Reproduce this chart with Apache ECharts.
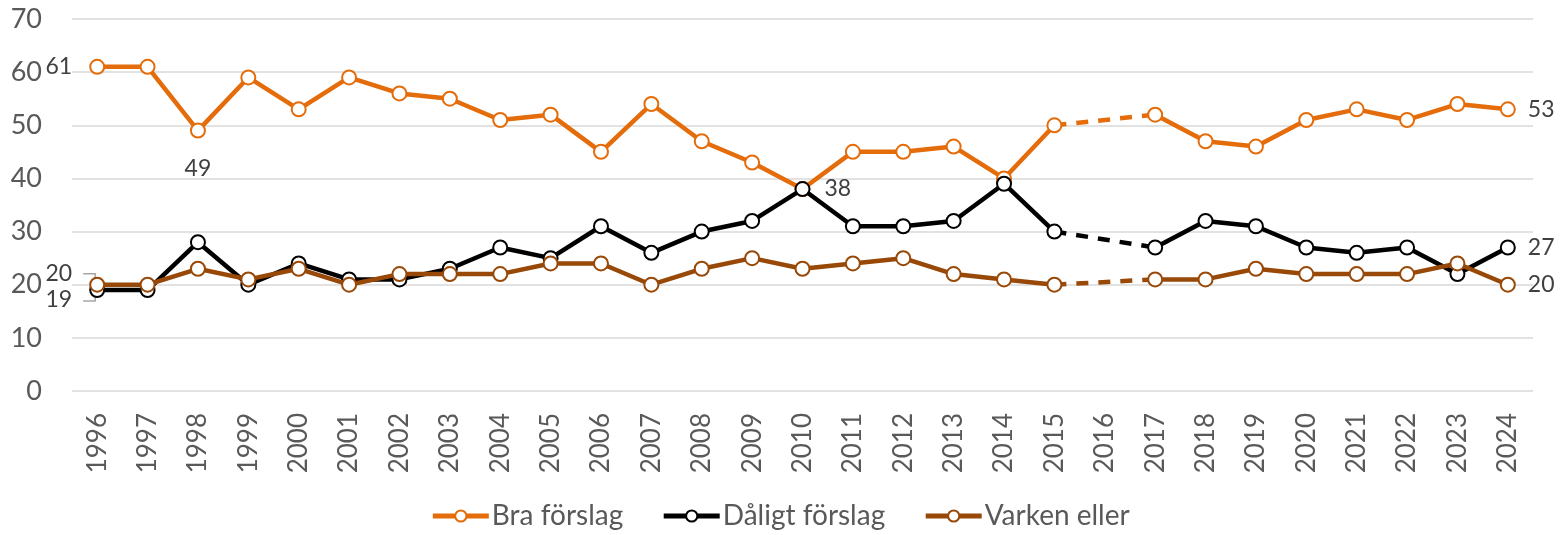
<!DOCTYPE html>
<html>
<head>
<meta charset="utf-8">
<script src="https://cdn.jsdelivr.net/npm/echarts@6/dist/echarts.min.js"></script>
<style>
  html, body { margin: 0; padding: 0; background: #fff; }
  #chart { width: 1560px; height: 535px; }
</style>
</head>
<body>
<div id="chart"></div>
<script>
  // år och serier (2016 saknas)
  const years = ['1996','1997','1998','1999','2000','2001','2002','2003','2004','2005','2006','2007','2008','2009','2010',
                 '2011','2012','2013','2014','2015','2016','2017','2018','2019','2020','2021','2022','2023','2024'];
  const bra     = [61,61,49,59,53,59,56,55,51,52,45,54,47,43,38,45,45,46,40,50,null,52,47,46,51,53,51,54,53];
  const daligt  = [19,19,28,20,24,21,21,23,27,25,31,26,30,32,38,31,31,32,39,30,null,27,32,31,27,26,27,22,27];
  const varken  = [20,20,23,21,23,20,22,22,22,24,24,20,23,25,23,24,25,22,21,20,null,21,21,23,22,22,22,24,20];
  const seriesNames = ['Bra förslag', 'Dåligt förslag', 'Varken eller'];
  const yTicks = [0, 10, 20, 30, 40, 50, 60, 70];

  const colors = ['#E46C0A', '#000000', '#984807'];
  const font = 'Lato, "Open Sans", sans-serif';
  const labelStyle = { show: true, color: '#404040', fontSize: 23, fontFamily: font };

  // vilka punkter som har etikett, och var
  const labelConf = [
    { 0: { position: 'left', distance: 17 }, 2: { position: 'bottom', distance: 18 }, 28: { position: 'right', distance: 12 } },
    { 0: { position: 'left', distance: 17, offset: [0, 10] }, 14: { position: 'right', distance: 14 }, 28: { position: 'right', distance: 12 } },
    { 0: { position: 'left', distance: 17, offset: [0, -11] }, 28: { position: 'right', distance: 12 } }
  ];

  function withLabels(values, conf) {
    return values.map((v, i) => {
      const c = conf[i];
      if (c && v != null) {
        return {
          value: v,
          label: Object.assign({}, labelStyle, { position: c.position, distance: c.distance, offset: c.offset || [0, 0] })
        };
      }
      return v;
    });
  }

  // streckad bit över det saknade året
  function gapPart(values) {
    return values.map((v, i) => {
      const prev = values[i - 1], next = values[i + 1];
      if (v == null) return null;
      if ((next === null && i + 1 < values.length) || (prev === null && i > 0)) return v;
      return null;
    });
  }

  const allData = [bra, daligt, varken];
  const series = [];
  allData.forEach((vals, k) => {
    series.push({
      name: seriesNames[k],
      type: 'line',
      data: withLabels(vals, labelConf[k]),
      connectNulls: false,
      symbol: 'circle',
      symbolSize: 14,
      showAllSymbol: true,
      lineStyle: { color: colors[k], width: 4.5 },
      itemStyle: { color: '#ffffff', borderColor: colors[k], borderWidth: 2 },
      z: 3 + k,
      animation: false
    });
    series.push({
      name: seriesNames[k] + '_gap',
      type: 'line',
      data: gapPart(vals),
      connectNulls: true,
      symbol: 'none',
      lineStyle: { color: colors[k], width: 4.5, type: [12, 10] },
      z: 2,
      silent: true,
      animation: false
    });
  });

  const chart = echarts.init(document.getElementById('chart'));
  chart.setOption({
    backgroundColor: '#ffffff',
    animation: false,
    grid: { left: 72, right: 27, top: 19, bottom: 144 },
    legend: {
      data: seriesNames,
      bottom: 0,
      left: 'center',
      itemWidth: 56,
      itemHeight: 14,
      itemGap: 38,
      lineStyle: { width: 5 },
      textStyle: { color: '#595959', fontSize: 28, fontFamily: font, padding: [0, 0, 0, -2] }
    },
    xAxis: {
      type: 'category',
      data: years,
      boundaryGap: true,
      axisLine: { show: false },
      axisTick: { show: false },
      axisLabel: {
        rotate: 90,
        interval: 0,
        margin: 22,
        color: '#595959',
        fontSize: 26,
        fontFamily: font
      }
    },
    yAxis: {
      type: 'value',
      min: yTicks[0],
      max: yTicks[yTicks.length - 1],
      interval: 10,
      axisLine: { show: false },
      axisTick: { show: false },
      axisLabel: { color: '#595959', fontSize: 27, fontFamily: font, margin: 30 },
      splitLine: { lineStyle: { color: '#D9D9D9', width: 1.5 } }
    },
    series: series
  });

  // liten hakparentes som binder etiketterna 20/19 vid 1996 till sina punkter
  const pTop = chart.convertToPixel({ seriesIndex: 4 }, [0, varken[0]]);
  const pBot = chart.convertToPixel({ seriesIndex: 2 }, [0, daligt[0]]);
  const xr = pTop[0] - 2, xl = pTop[0] - 14;
  chart.setOption({
    graphic: [{
      type: 'polyline',
      z: 1,
      shape: { points: [[xl, pTop[1] - 11], [xr, pTop[1] - 11], [xr, pBot[1] + 11], [xl, pBot[1] + 11]] },
      style: { stroke: '#A6A6A6', lineWidth: 1.5, fill: null }
    }]
  });
</script>
</body>
</html>
